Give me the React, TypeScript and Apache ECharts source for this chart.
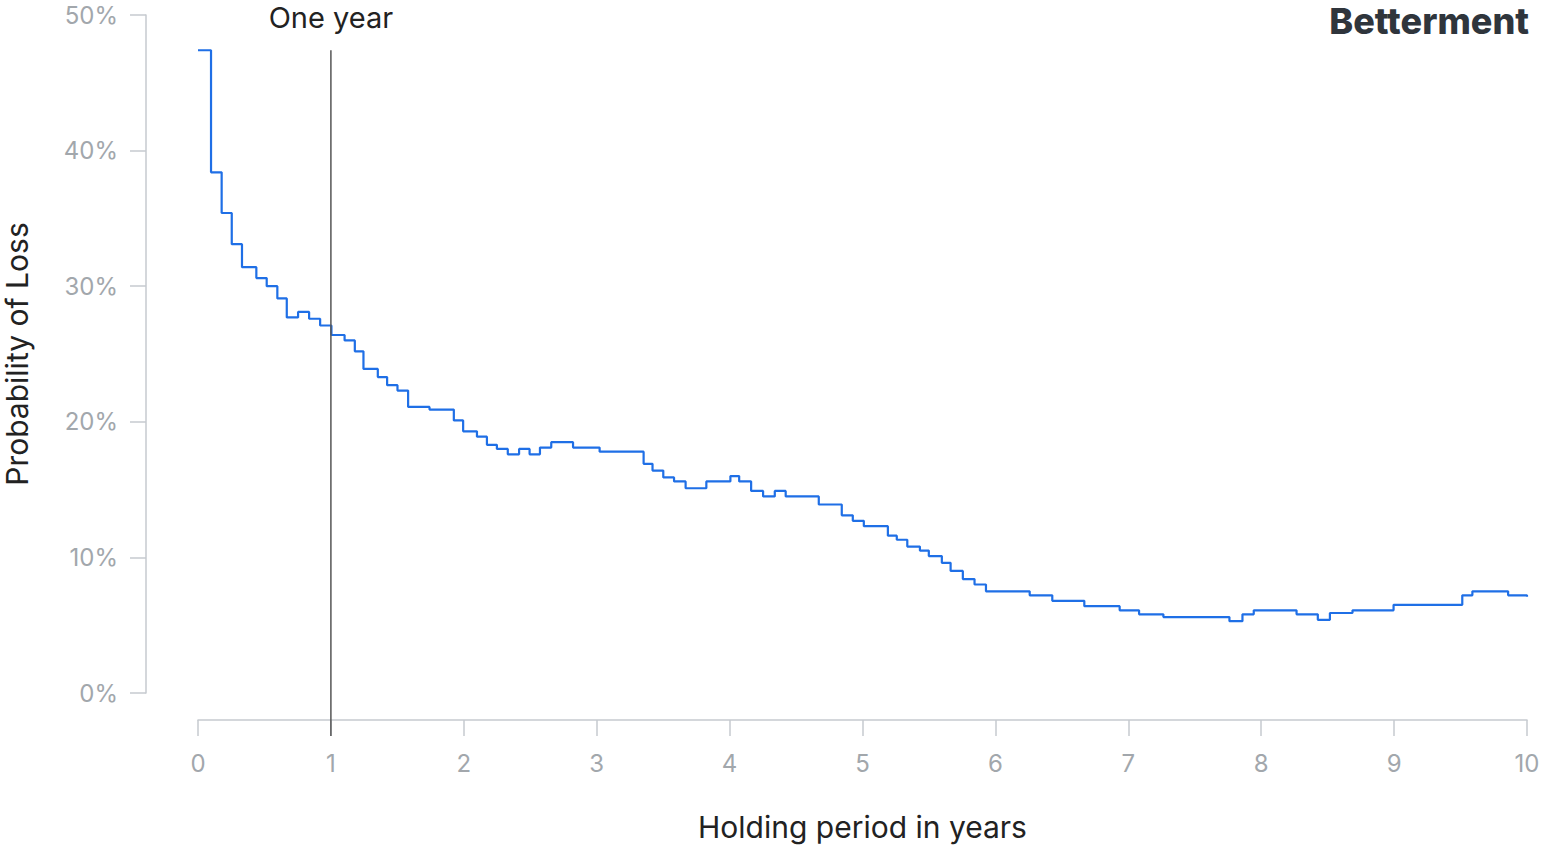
import React, { useEffect, useRef } from "react";
import * as echarts from "echarts";

// Holding period (years) at which each step starts
const years = [
  0, 0.098, 0.178, 0.254, 0.331, 0.439, 0.517, 0.597, 0.668, 0.753, 0.836, 0.919,
  1.004, 1.103, 1.18, 1.245, 1.353, 1.423, 1.501, 1.581, 1.742, 1.925, 1.995,
  2.099, 2.174, 2.249, 2.331, 2.416, 2.495, 2.573, 2.658, 2.822, 3.022, 3.353,
  3.42, 3.501, 3.582, 3.669, 3.825, 4.006, 4.072, 4.162, 4.252, 4.34, 4.422,
  4.671, 4.844, 4.927, 5.01, 5.191, 5.258, 5.337, 5.432, 5.499, 5.597, 5.663,
  5.755, 5.843, 5.929, 6.258, 6.428, 6.669, 6.935, 7.081, 7.264, 7.761, 7.859,
  7.944, 8.266, 8.426, 8.517, 8.687, 8.996, 9.513, 9.589, 9.858, 10.0,
];
// Probability of loss (%) for each step
const lossProb = [
  47.4, 38.4, 35.4, 33.1, 31.4, 30.6, 30.0, 29.1, 27.7, 28.1, 27.6, 27.1,
  26.4, 26.0, 25.2, 23.9, 23.3, 22.7, 22.3, 21.1, 20.9, 20.1, 19.3,
  18.9, 18.3, 18.0, 17.6, 18.0, 17.6, 18.1, 18.5, 18.1, 17.8, 16.9,
  16.4, 15.9, 15.6, 15.1, 15.6, 16.0, 15.6, 14.9, 14.5, 14.9, 14.5,
  13.9, 13.1, 12.7, 12.3, 11.6, 11.3, 10.8, 10.5, 10.1, 9.6, 9.0,
  8.4, 8.0, 7.5, 7.2, 6.8, 6.4, 6.1, 5.8, 5.6, 5.3, 5.8,
  6.1, 5.8, 5.4, 5.9, 6.1, 6.5, 7.2, 7.5, 7.2, 7.1,
];
const xTicks = [0, 1, 2, 3, 4, 5, 6, 7, 8, 9, 10];
const yTicks = [0, 10, 20, 30, 40, 50];
const markerYear = 1;
const markerLabel = "One year";
const xName = "Holding period in years";
const yName = "Probability of Loss";
const brand = "Betterment";

const FONT = "Inter, 'Noto Sans', sans-serif";
const GRAY_TEXT = "#a2a7ac";
const AXIS_LINE = "#c6cacf";
const DARK = "#222222";

export default function App() {
  const ref = useRef<HTMLDivElement>(null);
  useEffect(() => {
    if (!ref.current) return;
    const chart = echarts.init(ref.current, undefined, { renderer: "svg" });
    const data = years.map((x, i) => [x, lossProb[i]]);
    const xOffset = 27;
    const tickLen = 16;
    chart.setOption({
      animation: false,
      backgroundColor: "#ffffff",
      textStyle: { fontFamily: FONT },
      grid: {
        left: 198,
        right: 14,
        top: 15,
        bottom: 154,
        containLabel: false,
        outerBoundsMode: "none",
      },
      xAxis: {
        type: "value",
        min: xTicks[0],
        max: xTicks[xTicks.length - 1],
        interval: 1,
        offset: xOffset,
        axisLine: { show: true, onZero: false, lineStyle: { color: AXIS_LINE, width: 1.5 } },
        axisTick: { show: true, length: tickLen, lineStyle: { color: AXIS_LINE, width: 1.5 } },
        splitLine: { show: false },
        axisLabel: { color: GRAY_TEXT, fontSize: 24, fontFamily: FONT, margin: 31 },
        name: xName,
        nameLocation: "middle",
        nameGap: 92,
        nameTextStyle: { color: DARK, fontSize: 30, fontFamily: FONT },
      },
      yAxis: {
        type: "value",
        min: yTicks[0],
        max: yTicks[yTicks.length - 1],
        interval: 10,
        offset: 52,
        axisLine: { show: true, onZero: false, lineStyle: { color: AXIS_LINE, width: 1.5 } },
        axisTick: { show: true, length: tickLen, lineStyle: { color: AXIS_LINE, width: 1.5 } },
        splitLine: { show: false },
        axisLabel: {
          color: GRAY_TEXT,
          fontSize: 24,
          fontFamily: FONT,
          margin: 28,
          formatter: (v: number) => `${v}%`,
        },
        name: yName,
        nameLocation: "middle",
        nameGap: 114,
        nameTextStyle: { color: DARK, fontSize: 30, fontFamily: FONT },
      },
      series: [
        {
          type: "line",
          step: "end",
          data,
          showSymbol: false,
          lineStyle: { color: "#1f6fe6", width: 2.2 },
          z: 3,
        },
      ],
    });
    const xPx = chart.convertToPixel({ xAxisIndex: 0 }, markerYear) as number;
    const topPx = chart.convertToPixel({ yAxisIndex: 0 }, Math.max(...lossProb)) as number;
    const zeroPx = chart.convertToPixel({ yAxisIndex: 0 }, 0) as number;
    const bottomPx = zeroPx + xOffset + tickLen;
    chart.setOption({
      graphic: [
        {
          type: "line",
          shape: { x1: xPx, y1: topPx, x2: xPx, y2: bottomPx },
          style: { stroke: "#555555", lineWidth: 1.5 },
          z: 10,
        },
        {
          type: "text",
          x: xPx,
          y: 17,
          style: {
            text: markerLabel,
            fill: DARK,
            fontSize: 29,
            fontFamily: FONT,
            align: "center",
            verticalAlign: "middle",
          },
          z: 10,
        },
        {
          type: "text",
          right: 12,
          top: 0,
          style: {
            text: brand,
            fill: "#2f353c",
            fontSize: 36,
            lineHeight: 42,
            fontWeight: 800,
            fontFamily: FONT,
          },
          z: 10,
        },
      ],
    });
    return () => chart.dispose();
  }, []);
  return (
    <div
      ref={ref}
      style={{ position: "absolute", left: 0, top: 0, width: 1541, height: 847 }}
    />
  );
}
